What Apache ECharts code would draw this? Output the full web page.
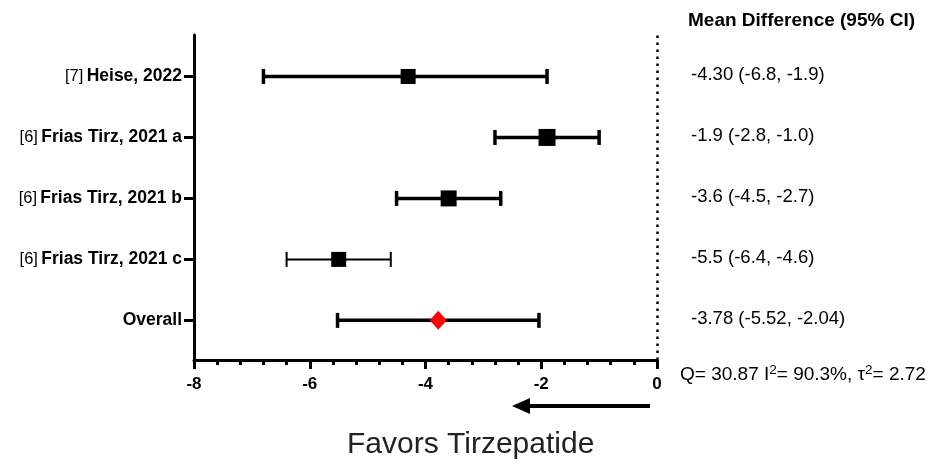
<!DOCTYPE html>
<html>
<head>
<meta charset="utf-8">
<script src="https://cdn.jsdelivr.net/npm/echarts@6/dist/echarts.min.js"></script>
<style>
  html, body { margin: 0; padding: 0; background: #fff; }
  #chart { width: 939px; height: 466px; }
</style>
</head>
<body>
<div id="chart"></div>
<script>
// study rows, top to bottom
var refs = ["[7]", "[6]", "[6]", "[6]", ""];
var studies = ["Heise, 2022", "Frias Tirz, 2021 a", "Frias Tirz, 2021 b", "Frias Tirz, 2021 c", "Overall"];
var means = [-4.30, -1.9, -3.6, -5.5, -3.78];
var lower = [-6.8, -2.8, -4.5, -6.4, -5.52];
var upper = [-1.9, -1.0, -2.7, -4.6, -2.04];
var ciText = ["-4.30 (-6.8, -1.9)", "-1.9 (-2.8, -1.0)", "-3.6 (-4.5, -2.7)", "-5.5 (-6.4, -4.6)", "-3.78 (-5.52, -2.04)"];
var xTicks = [-8, -6, -4, -2, 0];

// look
var markerSizes = [15, 17, 16, 15, 17];
var barWidths = [3.5, 3.5, 3.5, 2, 3.5];
var FONT = "Liberation Sans";

var n = studies.length;
// row position on the y value axis (top row highest)
function rowY(i) { return n - 1 - i + 0.65; }
var rowVals = studies.map(function (s, i) { return rowY(i); });

var chart = echarts.init(document.getElementById("chart"));

var barData = studies.map(function (s, i) { return [lower[i], upper[i], rowY(i), i]; });
var pointData = studies.map(function (s, i) {
  var last = i === n - 1;
  return {
    value: [means[i], rowY(i)],
    symbol: last ? "diamond" : "rect",
    symbolSize: last ? [17, 19] : markerSizes[i],
    itemStyle: { color: last ? "#ff0000" : "#000", opacity: 1 }
  };
});

var option = {
  animation: false,
  grid: { left: 194, right: 282, top: 35, bottom: 106, containLabel: false },
  xAxis: {
    type: "value",
    min: -8,
    max: 0,
    interval: 2,
    splitLine: { show: false },
    axisLine: { onZero: false, lineStyle: { color: "#000", width: 3 } },
    axisTick: { length: 9, lineStyle: { color: "#000", width: 3 } },
    minorTick: { show: true, splitNumber: 5, length: 5, lineStyle: { color: "#000", width: 3 } },
    axisLabel: {
      color: "#000", fontFamily: FONT, fontWeight: "bold", fontSize: 17, margin: 16,
      formatter: function (v) { return xTicks.indexOf(v) >= 0 ? String(v) : ""; }
    }
  },
  yAxis: {
    type: "value",
    min: 0,
    max: 5.33,
    position: "left",
    splitLine: { show: false },
    axisLine: { show: true, onZero: false, lineStyle: { color: "#000", width: 3 } },
    axisTick: { show: true, length: 10, customValues: rowVals, lineStyle: { color: "#000", width: 3 } },
    axisLabel: {
      customValues: rowVals,
      margin: 12,
      formatter: function (v) {
        var i = Math.round(n - 1 + 0.65 - v);
        if (i < 0 || i >= n) return "";
        return (refs[i] ? "{r|" + refs[i] + "} " : "") + "{b|" + studies[i] + "}";
      },
      rich: {
        r: { fontFamily: FONT, fontSize: 16.5, color: "#000" },
        b: { fontFamily: FONT, fontSize: 17.5, fontWeight: "bold", color: "#000" }
      }
    }
  },
  series: [
    {
      type: "custom",
      data: barData,
      renderItem: function (params, api) {
        var p1 = api.coord([api.value(0), api.value(2)]);
        var p2 = api.coord([api.value(1), api.value(2)]);
        var w = barWidths[api.value(3)];
        var st = { stroke: "#000", lineWidth: w };
        return {
          type: "group",
          children: [
            { type: "line", shape: { x1: p1[0], y1: p1[1], x2: p2[0], y2: p2[1] }, style: st },
            { type: "line", shape: { x1: p1[0], y1: p1[1] - 7.5, x2: p1[0], y2: p1[1] + 7.5 }, style: st },
            { type: "line", shape: { x1: p2[0], y1: p2[1] - 7.5, x2: p2[0], y2: p2[1] + 7.5 }, style: st }
          ]
        };
      },
      markLine: {
        silent: true,
        symbol: "none",
        label: { show: false },
        lineStyle: { color: "#000", type: [2.5, 4.5], width: 2.5, opacity: 1 },
        data: [{ xAxis: 0 }]
      },
      z: 2
    },
    {
      type: "scatter",
      data: pointData,
      z: 3
    }
  ],
  graphic: [
    {
      type: "text", left: 688, top: 11,
      style: { text: "Mean Difference (95% CI)", font: "bold 19px " + FONT, fill: "#000" }
    },
    {
      type: "text", left: 680, top: 363,
      style: {
        text: "Q= 30.87 I{s|2}= 90.3%, τ{s|2}= 2.72",
        font: "19px " + FONT, fill: "#000",
        rich: { s: { fontSize: 13.5, fontFamily: FONT, verticalAlign: "top", padding: [0, 0, 9, 0] } }
      }
    },
    {
      type: "line",
      shape: { x1: 650, y1: 406, x2: 528, y2: 406 },
      style: { stroke: "#000", lineWidth: 4 }
    },
    {
      type: "polygon",
      shape: { points: [[512, 406], [530, 398], [530, 414]] },
      style: { fill: "#000" }
    },
    {
      type: "text", left: 347, top: 430,
      style: { text: "Favors Tirzepatide", font: "30px " + FONT, fill: "#222" }
    }
  ].concat(ciText.map(function (t, i) {
    return {
      type: "text",
      left: 691,
      top: 360 - rowY(i) * (325 / 5.33) - 11,
      style: { text: t, font: "18.5px " + FONT, fill: "#000" }
    };
  }))
};

chart.setOption(option);
</script>
</body>
</html>
